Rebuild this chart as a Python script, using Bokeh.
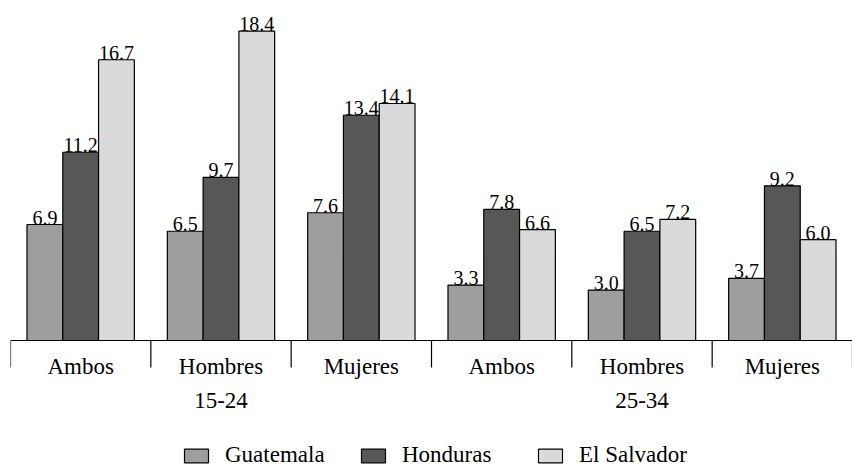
import numpy as np
from bokeh.plotting import figure
from bokeh.models import Range1d, Legend, LegendItem, ColumnDataSource
from bokeh.core.properties import value
from bokeh.embed import file_html
from bokeh.resources import INLINE

age_groups = ["15-24", "25-34"]
sexes = ["Ambos", "Hombres", "Mujeres"]
countries = ["Guatemala", "Honduras", "El Salvador"]
guatemala = [6.9, 6.5, 7.6, 3.3, 3.0, 3.7]
honduras = [11.2, 9.7, 13.4, 7.8, 6.5, 9.2]
el_salvador = [16.7, 18.4, 14.1, 6.6, 7.2, 6.0]
colors = ["#9e9e9e", "#575757", "#dadada"]

FONT = "Liberation Serif"

categories = [(a, s) for a in age_groups for s in sexes]
n = len(categories)
centers = np.arange(n) + 0.5
series = [guatemala, honduras, el_salvador]

PX_PER_UNIT = 16.81          # vertical scale of the original
Y_TOP = 332 / PX_PER_UNIT     # room above the baseline
Y_BOTTOM = -129 / PX_PER_UNIT # room below the baseline (labels, legend)
TICK_LEN = 27 / PX_PER_UNIT

p = figure(width=852, height=469, x_range=Range1d(0, n), y_range=Range1d(Y_BOTTOM, Y_TOP),
           x_axis_location=None, y_axis_location=None,
           output_backend="svg", toolbar_location=None,
           min_border_left=10, min_border_right=0, min_border_top=8,
           min_border_bottom=0)
p.outline_line_color = None
p.grid.visible = False
p.background_fill_color = "white"

bw = 0.255
offsets = [-bw, 0.0, bw]
renderers = []
for i, vals in enumerate(series):
    src = ColumnDataSource(dict(x=centers + offsets[i], top=vals,
                                label=[f"{v:.1f}" for v in vals]))
    r = p.vbar(x="x", top="top", width=bw, bottom=0, source=src,
               fill_color=colors[i], line_color="black", line_width=1.2)
    renderers.append(r)
    p.text(x="x", y="top", text="label", source=src, text_align="center",
           text_baseline="bottom", y_offset=0, text_font=value(FONT),
           text_font_size="20px", text_color="black")

# baseline and group boundary ticks
bounds = np.arange(n + 1)
p.segment(x0=[0], x1=[n], y0=[0], y1=[0], line_color="black", line_width=1.2)
p.segment(x0=bounds, x1=bounds, y0=np.zeros(n + 1), y1=np.full(n + 1, -TICK_LEN),
          line_color="black", line_width=1.2)

# category labels (sex) and age-group labels
p.text(x=centers, y=np.zeros(n), text=[c[1] for c in categories],
       text_align="center", text_baseline="alphabetic", y_offset=26,
       text_font=value(FONT), text_font_size="23px", text_color="black")
age_centers = np.array([1.5 + 3 * k for k in range(len(age_groups))])
p.text(x=age_centers, y=np.zeros(len(age_groups)), text=age_groups,
       text_align="center", text_baseline="alphabetic", y_offset=60,
       text_font=value(FONT), text_font_size="23px", text_color="black")

legend = Legend(items=[LegendItem(label=c, renderers=[r]) for c, r in zip(countries, renderers)],
                orientation="horizontal", location=(171, 1),
                glyph_width=30, glyph_height=17, label_standoff=14,
                label_width=105, spacing=28, padding=0, margin=0,
                border_line_color=None, background_fill_alpha=0,
                label_text_font=FONT, label_text_font_size="23px",
                label_text_color="black")
p.add_layout(legend, "center")

open("out.html", "w").write(file_html(p, INLINE))
